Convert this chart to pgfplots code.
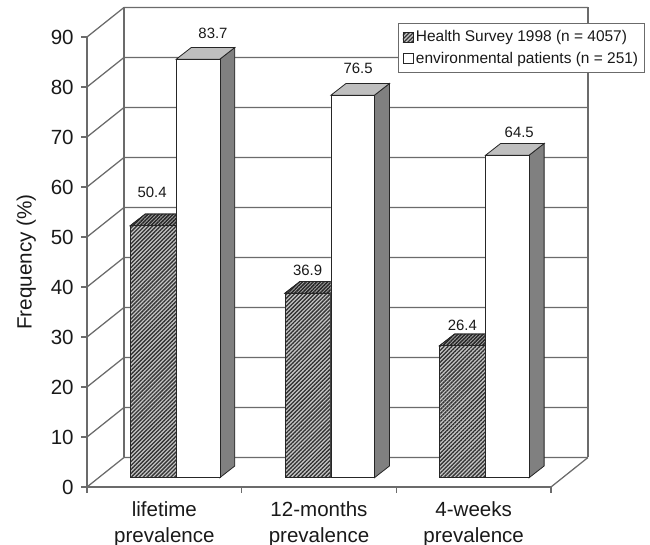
\documentclass[border=0pt]{standalone}
\usepackage{pgfplots}
\pgfplotsset{compat=1.18}
\usepackage{fontspec}
\setmainfont{Liberation Sans}
\usetikzlibrary{patterns.meta}

% one drawing unit of the layout is 0.75pt
\definecolor{wallgray}{gray}{0.42}
\definecolor{sidegray}{gray}{0.50}
\definecolor{topgray}{gray}{0.75}
\definecolor{inkgray}{gray}{0.10}

\tikzset{
  hatchfront/.style={preaction={fill=gray!45!white},
    pattern={Lines[angle=45,distance=2.1pt,line width=1.0pt]},pattern color=black!80},
  hatchtop/.style={preaction={fill=gray!70!white},
    pattern={Lines[angle=45,distance=1.9pt,line width=1.1pt]},pattern color=black!85},
}

\pgfplotsset{
  sheet/.style={
    scale only axis,width=348pt,height=337.5pt,
    clip=false,enlargelimits=false,
    /pgf/number format/assume math mode=true,
    tick label style={font=\fontsize{15.4}{19.5}\selectfont,color=inkgray},
  },
  wall/.style={no markers,color=wallgray,line width=0.95pt,forget plot},
  facedge/.style={draw=black!85,line width=0.6pt,forget plot,no markers},
}

% sloping line on the side wall, then along the back wall
\newcommand{\gridrow}[2]{\addplot[wall] coordinates {(0,#1)(0.2392,#2)(3.2392,#2)};}

% top face of a bar: left edge, right edge, value
\newcommand{\topface}[4]{%
  \pgfmathsetmacro{\xa}{#1}\pgfmathsetmacro{\xb}{#2}%
  \pgfmathsetmacro{\xc}{#2+0.097}\pgfmathsetmacro{\xd}{#1+0.097}%
  \pgfmathsetmacro{\yb}{#3+2.34}%
  \addplot[facedge,#4] coordinates {(\xa,#3)(\xb,#3)(\xc,\yb)(\xd,\yb)} -- cycle;}

% side face of a bar: right edge, value
\newcommand{\sideface}[2]{%
  \pgfmathsetmacro{\xb}{#1}\pgfmathsetmacro{\xc}{#1+0.097}%
  \pgfmathsetmacro{\yb}{#2+2.34}%
  \addplot[facedge,fill=sidegray] coordinates {(\xb,0)(\xc,2.34)(\xc,\yb)(\xb,#2)} -- cycle;}

\begin{document}
\begin{tikzpicture}[x=1pt,y=1pt]
\path[use as bounding box] (-65.25pt,-43.5pt) rectangle (422.25pt,365.25pt);

% axis frame, side wall, back wall and floor
\begin{axis}[sheet,
  axis x line*=bottom,axis y line*=left,
  axis line style={color=wallgray,line width=0.95pt},
  xmin=0,xmax=3,ymin=0,ymax=90,
  ytick={0,10,...,90},
  xtick={0.5,1.5,2.5},
  xticklabels={lifetime\\prevalence,12-months\\prevalence,4-weeks\\prevalence},
  xticklabel style={align=center,yshift=-3pt},
  yticklabel style={xshift=-2pt},
  major x tick style={draw=none},
  minor xtick={0,1,2,3},
  minor tick length=4.5pt,
  tick style={color=wallgray,line width=0.95pt},
  major tick length=4.5pt,
  tick align=outside,
  ylabel={Frequency (\%)},
  ylabel style={font=\fontsize{15.5}{18}\selectfont,color=inkgray,at={(axis description cs:-0.1,0.5)},anchor=south},
]
\gridrow{0}{5.9}\gridrow{10}{15.9}\gridrow{20}{25.9}\gridrow{30}{35.9}\gridrow{40}{45.9}
\gridrow{50}{55.9}\gridrow{60}{65.9}\gridrow{70}{75.9}\gridrow{80}{85.9}\gridrow{90}{95.9}
\addplot[wall] coordinates {(0.2392,5.9)(0.2392,95.9)};
\addplot[wall] coordinates {(3.2392,5.9)(3.2392,95.9)};
\addplot[wall] coordinates {(3,0)(3.2392,5.9)};
\end{axis}

% bars, standing on a plane slightly behind the front edge of the floor
\begin{axis}[sheet,hide axis,
  xmin=-0.5,xmax=2.5,ymin=-1.86,ymax=88.14,
  legend style={at={(1.2035,1.0318)},anchor=north east,
    font=\fontsize{11.6}{14}\selectfont,text=inkgray,
    draw=wallgray,line width=0.9pt,fill=white,
    inner xsep=3pt,inner ysep=3.5pt,
    row sep=2.3pt,
    legend cell align=left},
  legend image code/.code={
    \draw[#1,line width=0.4pt] (0pt,-3.6pt) rectangle (7.5pt,3.9pt);},
]
\topface{-0.22}{0.0774}{50.4}{hatchtop}
\topface{0.78}{1.0774}{36.9}{hatchtop}
\topface{1.78}{2.0774}{26.4}{hatchtop}

\addplot[ybar,draw=black!85,line width=0.6pt,hatchfront,bar width=34.2pt,bar shift=-8.4pt]
  coordinates {(0,50.4)(1,36.9)(2,26.4)};
\addlegendentry{Health Survey 1998 (n = 4057)}

\sideface{0.3586}{83.7}
\sideface{1.3586}{76.5}
\sideface{2.3586}{64.5}
\topface{0.0774}{0.3586}{83.7}{fill=topgray}
\topface{1.0774}{1.3586}{76.5}{fill=topgray}
\topface{2.0774}{2.3586}{64.5}{fill=topgray}

\addplot[ybar,draw=black!85,line width=0.6pt,fill=white,bar width=32.8pt,bar shift=25.35pt]
  coordinates {(0,83.7)(1,76.5)(2,64.5)};
\addlegendentry{environmental patients (n = 251)}

% value labels
\tikzset{vlabel/.style={font=\fontsize{11.2}{13}\selectfont,color=inkgray,anchor=center}}
\node[vlabel,xshift=-9.2pt,yshift=25.3pt] at (axis cs:0,50.4) {50.4};
\node[vlabel,xshift=36.5pt,yshift=19.5pt] at (axis cs:0,83.7) {83.7};
\node[vlabel,xshift=-8.5pt,yshift=17.2pt] at (axis cs:1,36.9) {36.9};
\node[vlabel,xshift=29.3pt,yshift=20.2pt] at (axis cs:1,76.5) {76.5};
\node[vlabel,xshift=-8.5pt,yshift=15.5pt] at (axis cs:2,26.4) {26.4};
\node[vlabel,xshift=34.2pt,yshift=17.2pt] at (axis cs:2,64.5) {64.5};
\end{axis}
\end{tikzpicture}
\end{document}
